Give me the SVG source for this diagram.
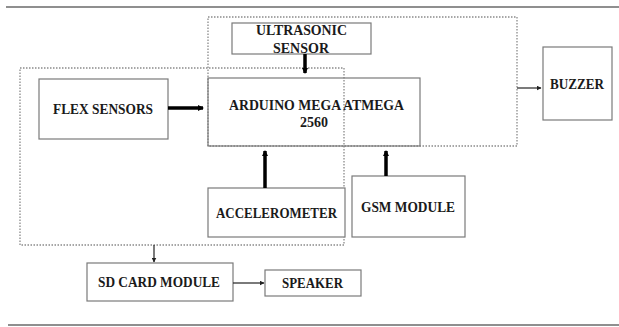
<svg xmlns="http://www.w3.org/2000/svg" width="619" height="327" viewBox="0 0 619 327">
<style>
.box{fill:#fff;stroke:#7a7a7a;stroke-width:1.2}
.grp{fill:none;stroke:#8a8a8a;stroke-width:1.3;stroke-dasharray:1.5 1.5}
.t{font-family:"Liberation Serif","Times New Roman",serif;font-weight:bold;font-size:15.5px;fill:#1a1a1a}
.thick{stroke:#000;stroke-width:3.5;fill:none}
.thin{stroke:#222;stroke-width:1.2;fill:none}
.rule{stroke:#6a6a6a;stroke-width:1.5}
</style>
<defs>
<marker id="ah" markerWidth="6" markerHeight="6" refX="5" refY="3" orient="auto" markerUnits="userSpaceOnUse"><path d="M0,0 L6,3 L0,6 z" fill="#000"/></marker>
<marker id="as" markerWidth="5" markerHeight="5" refX="4.5" refY="2.5" orient="auto" markerUnits="userSpaceOnUse"><path d="M0,0 L5,2.5 L0,5 z" fill="#222"/></marker>
</defs>
<rect width="619" height="327" fill="#fff"/>
<line class="rule" x1="6" y1="7" x2="619" y2="7"/>
<line class="rule" x1="8" y1="325" x2="619" y2="325"/>
<g id="groups">
<rect class="grp" x="208" y="17" width="309" height="129"/>
<rect class="grp" x="20" y="68" width="324" height="177"/>
</g>
<g id="ultrasonic"><rect class="box" x="232" y="23" width="139" height="31"/><text class="t" x="256" y="35" textLength="91" lengthAdjust="spacingAndGlyphs">ULTRASONIC</text><text class="t" x="273" y="53" textLength="56" lengthAdjust="spacingAndGlyphs">SENSOR</text></g>
<g id="arduino"><rect class="box" x="208" y="78" width="212" height="68" style="fill:none"/><text class="t" x="229" y="110" textLength="175" lengthAdjust="spacingAndGlyphs" style="font-size:14.5px">ARDUINO MEGA ATMEGA</text><text class="t" x="300" y="127" textLength="28" lengthAdjust="spacingAndGlyphs" style="font-size:14.5px">2560</text></g>
<g id="flex"><rect class="box" x="39" y="79" width="129" height="60"/><text class="t" x="53" y="114" textLength="100" lengthAdjust="spacingAndGlyphs">FLEX SENSORS</text></g>
<g id="accelerometer"><rect class="box" x="208" y="188" width="137" height="49"/><text class="t" x="216" y="218" textLength="121" lengthAdjust="spacingAndGlyphs">ACCELEROMETER</text></g>
<g id="gsm"><rect class="box" x="352" y="176" width="113" height="61"/><text class="t" x="361" y="212" textLength="94" lengthAdjust="spacingAndGlyphs">GSM MODULE</text></g>
<g id="buzzer"><rect class="box" x="543" y="47" width="69" height="73"/><text class="t" x="550" y="89" textLength="54" lengthAdjust="spacingAndGlyphs">BUZZER</text></g>
<g id="sdcard"><rect class="box" x="87" y="263" width="146" height="38"/><text class="t" x="98" y="287" textLength="122" lengthAdjust="spacingAndGlyphs">SD CARD MODULE</text></g>
<g id="speaker"><rect class="box" x="265" y="270" width="96" height="26"/><text class="t" x="282" y="288" textLength="61" lengthAdjust="spacingAndGlyphs">SPEAKER</text></g>
<g id="connectors">
<line class="thick" x1="168" y1="108" x2="203" y2="108" marker-end="url(#ah)"/>
<line class="thick" x1="305" y1="54" x2="305" y2="73" marker-end="url(#ah)"/>
<line class="thick" x1="265" y1="188" x2="265" y2="151" marker-end="url(#ah)"/>
<line class="thick" x1="386" y1="176" x2="386" y2="151" marker-end="url(#ah)"/>
<line class="thin" x1="517" y1="88" x2="541" y2="88" marker-end="url(#as)"/>
<line class="thin" x1="154" y1="245" x2="154" y2="262" marker-end="url(#as)"/>
<line class="thin" x1="233" y1="283" x2="264" y2="283" marker-end="url(#as)"/>
</g>
</svg>
